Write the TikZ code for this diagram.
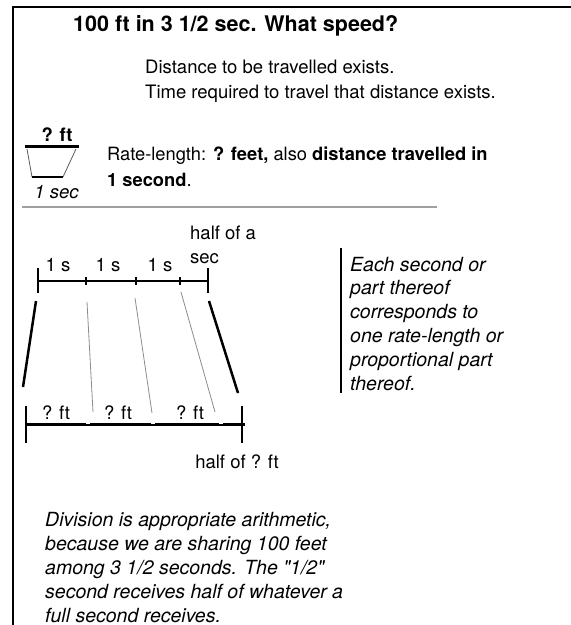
\documentclass[tikz,border=0pt]{standalone}
\usepackage{fontspec}
\setmainfont{TeX Gyre Heros}[Ligatures=TeXOff]
\usepackage{tikz}
\usetikzlibrary{positioning}
\definecolor{rulegray}{RGB}{160,160,160}
\definecolor{guidegray}{RGB}{140,140,140}
\definecolor{inkgray}{RGB}{90,90,90}

\begin{document}
\begin{tikzpicture}[x=1pt, y=-1pt,
    every node/.style={inner sep=0pt, font=\fontsize{18.5}{24.5}\selectfont},
    heading/.style={font=\fontsize{21.5}{26}\selectfont\bfseries},
    note/.style={font=\fontsize{19.5}{23.8}\selectfont\itshape, align=left},
    scalebar/.style={line width=2pt},
    guide/.style={guidegray, line width=0.8pt},
    fan/.style={line width=2.5pt}]
  \useasboundingbox (0,0) rectangle (571,625);
  % Frame
  \draw[line width=2.5pt] (13,625) -- (13,7) -- (571,7);
  % Question
  \node[heading, anchor=base west] (question) at (73,31) {100 ft in 3 1/2 sec. What speed?};
  \node[anchor=base west, align=left] (exists) at (145,98)
    {Distance to be travelled exists.\\Time required to travel that distance exists.};
  % Rate-length
  \node[font=\fontsize{18.5}{24.5}\selectfont\bfseries, anchor=base] (ratetop) at (57,141) {? ft};
  \draw[line width=3pt] (25,146) -- (79,146);
  \draw[inkgray, line width=0.8pt] (27,149) -- (32,177);
  \draw[inkgray, line width=0.8pt] (76,149) -- (63,177);
  \draw[line width=2pt] (32,177) -- (63,177);
  \node[font=\fontsize{18.5}{24.5}\selectfont\itshape, anchor=base] (ratesec) at (56.5,198) {1 sec};
  \node[anchor=base west, align=left, font=\fontsize{18.3}{26}\selectfont] (ratetext) at (107,186)
    {Rate-length: \textbf{? feet,} also \textbf{distance travelled in}\\\textbf{1 second}.};
  \draw[rulegray, line width=1.5pt] (22,207) -- (437,207);
  % Seconds scale
  \coordinate (s0) at (38,281);
  \coordinate (s4) at (208,281);
  \draw[scalebar] (s0) -- (s4);
  \draw[scalebar] (38,268) -- (38,293);
  \draw[scalebar] (208,268) -- (208,293);
  \draw[line width=1.5pt] (86,277) -- (86,285);
  \draw[line width=1.5pt] (136,277) -- (136,285);
  \draw[line width=1.5pt] (180,277) -- (180,285);
  \node[anchor=base] (sec1) at (58,271) {1 s};
  \node[anchor=base] (sec2) at (108,271) {1 s};
  \node[anchor=base] (sec3) at (160,271) {1 s};
  \node[anchor=base west, align=left, font=\fontsize{18.5}{24}\selectfont] (halfsec) at (190,263) {half of a\\sec};
  % Feet scale
  \coordinate (f0) at (23,387);
  \coordinate (f1) at (93,412);
  \coordinate (f2) at (152,413);
  \coordinate (f3) at (215,412);
  \coordinate (f4) at (238,393);
  \draw[line width=3pt] (26,424) -- (245,424);
  \draw[line width=1.8pt] (26,406) -- (26,443);
  \draw[line width=1.8pt] (242,406) -- (242,443);
  \draw[white, line width=4pt] (88,421) -- (88,424.3);
  \draw[white, line width=4pt] (153,421) -- (153,424.3);
  \draw[white, line width=4pt] (221,421) -- (221,424.3);
  \node[anchor=base] (ft1) at (56,419) {? ft};
  \node[anchor=base] (ft2) at (118,419) {? ft};
  \node[anchor=base] (ft3) at (190,419) {? ft};
  \node[anchor=base] (halfft) at (237,468) {half of ? ft};
  % Correspondence
  \coordinate (u0) at (36,301);
  \coordinate (u1) at (87,302);
  \coordinate (u2) at (135,298);
  \coordinate (u3) at (181,292);
  \coordinate (u4) at (209,301);
  \draw[fan] (u0) -- (f0);
  \draw[guide] (u1) -- (f1);
  \draw[guide] (u2) -- (f2);
  \draw[guide] (u3) -- (f3);
  \draw[fan] (u4) -- (f4);
  % Notes
  \draw[line width=2pt] (341,248) -- (341,393);
  \node[note, anchor=base west] (eachsec) at (350,390)
    {Each second or\\part thereof\\corresponds to\\one rate-length or\\proportional part\\thereof.};
  \node[note, anchor=base west] (division) at (45,622)
    {Division is appropriate arithmetic,\\because we are sharing 100 feet\\among 3 1/2 seconds. The "1/2"\\second receives half of whatever a\\full second receives.};
\end{tikzpicture}
\end{document}
